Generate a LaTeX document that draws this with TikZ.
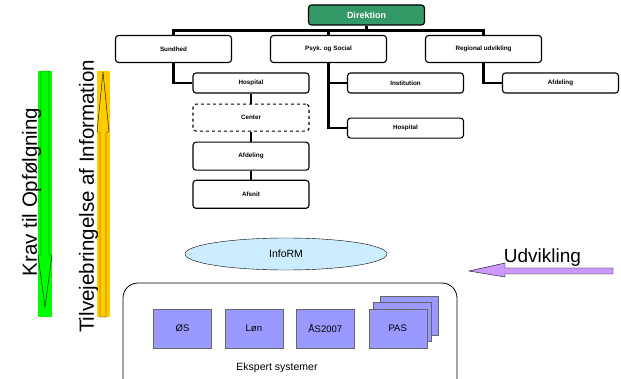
\documentclass[tikz,border=0pt]{standalone}
\usepackage{fontspec}
\setmainfont{Liberation Sans}
\usetikzlibrary{shapes.geometric,positioning}
\definecolor{dirgreen}{HTML}{339966}
\definecolor{kravgreen}{HTML}{00FF00}
\definecolor{infoyellow}{HTML}{FFCC00}
\definecolor{infoblue}{HTML}{CCECFF}
\definecolor{sysblue}{HTML}{9999FF}
\definecolor{udvpurple}{HTML}{CC99FF}
\begin{document}
\begin{tikzpicture}[x=1pt,y=-1pt,
    orgsty/.style={draw,rounded corners=3pt,line width=1.1pt,minimum width=116pt,
      minimum height=20pt,inner sep=0pt,font=\fontsize{6.3}{7}\selectfont\bfseries},
    linksty/.style={line width=2.4pt},
    syssty/.style={draw=black!60,fill=sysblue,minimum width=58pt,minimum height=39pt,
      inner sep=0pt,font=\fontsize{9.5}{11}\selectfont},
    bigsty/.style={font=\fontsize{20.5}{24}\selectfont,inner sep=0pt}]
  \clip (0,0) rectangle (621,379);

  % organisation
  \node[orgsty,fill=dirgreen,text=white,font=\fontsize{9}{10}\selectfont\bfseries] (dir) at (366.5,15) {Direktion};
  \node[orgsty,minimum height=27pt] (sund) at (173.5,49) {Sundhed};
  \node[orgsty,minimum height=27pt] (psyk) at (328.5,49) {Psyk. og Social};
  \node[orgsty,minimum height=27pt] (reg) at (483.5,49) {Regional udvikling};
  \draw[linksty] (dir.south) -- ++(0,5) coordinate (bus);
  \draw[linksty] (sund.north) |- (bus) -| (reg.north);
  \draw[linksty] (psyk.north) -- (psyk.north |- bus);

  % sundhed
  \node[orgsty] (hosp) at (251,83) {Hospital};
  \node[orgsty,dashed,minimum height=27pt,below=10pt of hosp] (cent) {Center};
  \node[orgsty,minimum height=28pt,below=10pt of cent] (afd) {Afdeling};
  \node[orgsty,minimum height=28pt,below=9pt of afd] (afsn) {Afsnit};
  \draw[linksty] (sund.south) |- (hosp.west);
  \draw[linksty] (hosp) -- (cent) -- (afd) -- (afsn);

  % psyk og social
  \node[orgsty] (inst) at (405.5,83) {Institution};
  \node[orgsty,below=24pt of inst] (hosp2) {Hospital};
  \draw[linksty] (psyk.south) |- (inst.west);
  \draw[linksty] (psyk.south) |- (hosp2.west);

  % regional udvikling
  \node[orgsty] (afd2) at (560.5,83) {Afdeling};
  \draw[linksty] (reg.south) |- (afd2.west);

  % krav til opfoelgning
  \fill[kravgreen] (38,71) rectangle (52,317);
  \draw[thin] (41,71) -- (49,71) -- (49,255) -- (52,255) -- (45,307) -- (38,255) -- (41,255) -- cycle;
  \node[bigsty,rotate=90] (krav) at (31.5,192) {Krav til Opfølgning};

  % tilvejebringelse
  \fill[infoyellow] (97,71) rectangle (110,317);
  \draw[thin] (100,317) -- (100,132) -- (97,132) -- (103,72) -- (109,132) -- (106,132) -- (106,317) -- cycle;
  \node[bigsty,rotate=90] (tilv) at (88.5,196.5) {Tilvejebringelse af Information};

  % udvikling
  \draw[thin,fill=udvpurple] (613,268) -- (505,268) -- (505,263) -- (469,271) -- (505,277) -- (505,274) -- (613,274) -- cycle;
  \node[bigsty,font=\fontsize{19}{22}\selectfont] (udv) at (542.5,257.5) {Udvikling};

  % inforum og ekspert systemer
  \node[ellipse,draw,fill=infoblue,minimum width=202pt,minimum height=32pt,inner sep=0pt,
    font=\fontsize{10.5}{12}\selectfont] (inform) at (286,254) {InfoRM};
  \draw[rounded corners=15pt,line width=0.8pt] (123,283) rectangle (457,400);
  \node[syssty] (os) at (182.5,328.5) {ØS};
  \node[syssty,right=13pt of os] (lon) {Løn};
  \node[syssty,right=13pt of lon] (as) {ÅS2007};
  \node[syssty] (pasc) at (409,315.5) {};
  \node[syssty] (pasb) at (402.5,322) {};
  \node[syssty,right=14pt of as] (pas) {PAS};
  \node[font=\fontsize{10.5}{12}\selectfont] (eksp) at (277,368) {Ekspert systemer};
\end{tikzpicture}
\end{document}
